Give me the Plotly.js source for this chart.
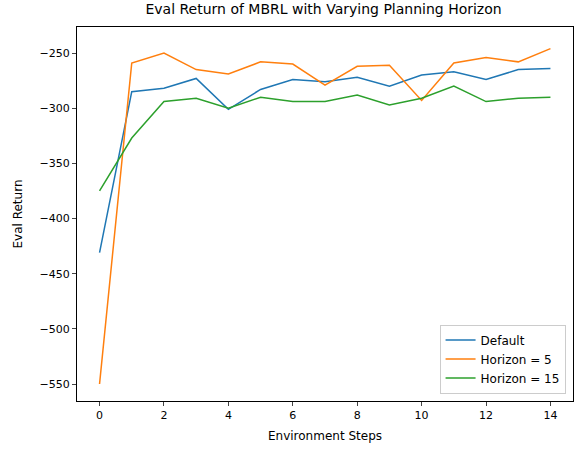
<!DOCTYPE html>
<html>
<head>
<script src="https://cdn.plot.ly/plotly-3.0.1.min.js"></script>
<style>body{margin:0}</style>
</head>
<body>
<div id="chart" style="width:583px;height:455px"></div>
<script>
var steps = [0, 1, 2, 3, 4, 5, 6, 7, 8, 9, 10, 11, 12, 13, 14];
var defaultRet = [-431, -285, -282, -273, -301, -283, -274, -276, -272, -280, -270, -267, -274, -265, -264];
var horizon5 = [-550, -259, -250, -265, -269, -258, -260, -279, -262, -261, -293, -259, -254, -258, -246];
var horizon15 = [-375, -327, -294, -291, -300, -290, -294, -294, -288, -297, -291, -280, -294, -291, -290];

function line(y, name, color) {
	return {x: steps, y: y, name: name, type: 'scatter', mode: 'lines', line: {color: color, width: 1.5}};
}

var data = [
	line(defaultRet, 'Default', '#1f77b4'),
	line(horizon5, 'Horizon = 5', '#ff7f0e'),
	line(horizon15, 'Horizon = 15', '#2ca02c')
];

var axisStyle = {
	showgrid: false, zeroline: false, showline: true, mirror: true,
	linecolor: '#000', linewidth: 1, ticks: 'outside', ticklen: 4,
	tickfont: {size: 11, color: '#000'}
};

var layout = {
	width: 583, height: 455,
	font: {family: 'DejaVu Sans', color: '#000'},
	margin: {l: 77, r: 10, t: 27, b: 54, pad: 0},
	paper_bgcolor: '#fff', plot_bgcolor: '#fff',
	title: {text: 'Eval Return of MBRL with Varying Planning Horizon', font: {size: 14}, x: 0.555, xanchor: 'center', y: 0.99, yanchor: 'top'},
	xaxis: Object.assign({}, axisStyle, {range: [-0.7, 14.7], tickvals: [0, 2, 4, 6, 8, 10, 12, 14],
		title: {text: 'Environment Steps', font: {size: 12}, standoff: 10}}),
	yaxis: Object.assign({}, axisStyle, {range: [-565.4, -226.4], tickvals: [-550, -500, -450, -400, -350, -300, -250],
		title: {text: 'Eval Return', font: {size: 12}, standoff: 14}}),
	legend: {x: 0.985, y: 0.02, xanchor: 'right', yanchor: 'bottom', bgcolor: 'rgba(255,255,255,0.8)',
		bordercolor: '#ccc', borderwidth: 1, font: {size: 12}},
	showlegend: true
};

Plotly.newPlot('chart', data, layout, {displayModeBar: false});
</script>
</body>
</html>
